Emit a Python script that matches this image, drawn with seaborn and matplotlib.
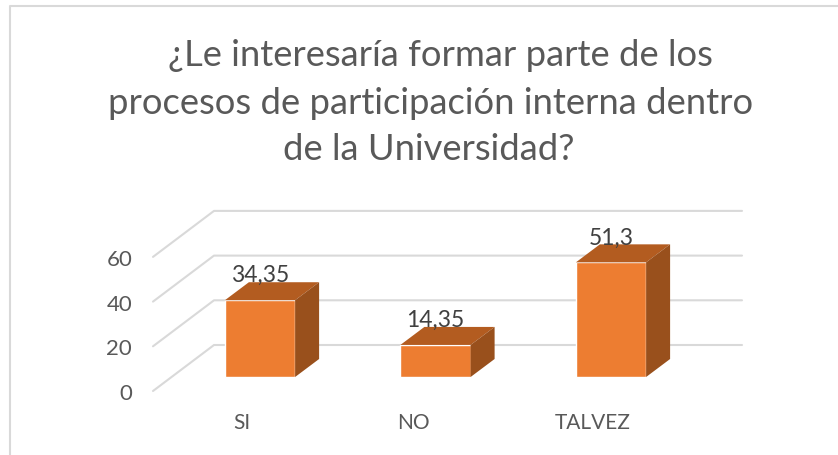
import matplotlib
matplotlib.use("Agg")
import matplotlib.pyplot as plt
import numpy as np
import pandas as pd
import seaborn as sns
from matplotlib.lines import Line2D
from matplotlib.patches import Polygon

categorias = ["SI", "NO", "TALVEZ"]
valores = [34.35, 14.35, 51.3]
etiquetas = ["34,35", "14,35", "51,3"]
ticks_y = [0, 20, 40, 60]
titulo = ["¿Le interesaría formar parte de los",
          "procesos de participación interna dentro",
          "de la Universidad?"]

W, H = 838, 456
GRIS = "#595959"

sns.set_theme(style="white")
plt.rcParams["font.family"] = ["Lato", "DejaVu Sans"]

fig = plt.figure(figsize=(W / 100, H / 100), dpi=100)
fig.patch.set_facecolor("white")

# borde del grafico: solo arriba y a la izquierda, el resto queda cortado
fig.add_artist(Line2D([10 / W, 10 / W, 1], [0, 1 - 7 / H, 1 - 7 / H], transform=fig.transFigure,
                      color="#d9d9d9", linewidth=1.5))

# ejes en pixeles: piso delantero abajo, pared trasera arriba
izq, der, arriba, abajo = 153, 742, 212, 392
base = 378
px_val = 2.235
px_cat = 175.5
ax = fig.add_axes([izq / W, 1 - abajo / H, (der - izq) / W, (abajo - arriba) / H])
ax.patch.set_alpha(0)

df = pd.DataFrame({"categoria": categorias, "valor": valores})
sns.barplot(data=df, x="categoria", y="valor", color="#ed7d31", saturation=1, width=0.4, ax=ax, zorder=3)

ax.set_xlim((izq - 260) / px_cat, (der - 260) / px_cat)
ax.set_ylim((base - abajo) / px_val, (base - arriba) / px_val)
sns.despine(ax=ax, left=True, bottom=True)

# profundidad de las barras y del piso
dx, dy = 24 / px_cat, 18 / px_val
pared_x, pared_y = 61 / px_cat, 46 / px_val

# escala del eje y, medida sobre el borde delantero
ax2 = ax.twinx()
ax2.set_ylim(0, (abajo - arriba) / px_val)
ax2.yaxis.tick_left()
ax2.set_yticks(ticks_y)
ax2.set_yticklabels([str(t) for t in ticks_y], fontsize=16, color=GRIS)
ax2.tick_params(axis="y", length=0, pad=15)
ax2.set_ylabel("")
sns.despine(ax=ax2, left=True, bottom=True, right=True)
ax2.patch.set_alpha(0)

# rejilla 3d
piso = (base - abajo) / px_val
x0 = ax.get_xlim()[0]
x1 = ax.get_xlim()[1]
for t in ticks_y:
    y_f = piso + t
    ax.plot([x0, x0 + pared_x, x1], [y_f, y_f + pared_y, y_f + pared_y], color="#d9d9d9",
            linewidth=1.5, zorder=1, clip_on=False)

# caras de arriba y de la derecha, a partir de las barras
for barra, texto in zip(ax.patches, etiquetas):
    xa = barra.get_x()
    xb = xa + barra.get_width()
    alto = barra.get_height()
    ax.add_patch(Polygon([(xa, alto), (xb, alto), (xb + dx, alto + dy), (xa + dx, alto + dy)],
                         facecolor="#b35c20", edgecolor="none", zorder=3, clip_on=False))
    ax.add_patch(Polygon([(xb, 0), (xb + dx, dy), (xb + dx, alto + dy), (xb, alto)],
                         facecolor="#99501c", edgecolor="none", zorder=3, clip_on=False))
    ax.text(xa + barra.get_width() / 2, alto + 19 / px_val, texto, ha="center", va="baseline",
            fontsize=16.5, color="#404040", zorder=4)

# etiquetas de categoria corridas a la izquierda, como en el original
ax.set_xticks(np.arange(len(categorias)) + np.array([-18, -22, -18]) / px_cat)
ax.set_xticklabels(categorias, fontsize=15, color=GRIS)
ax.tick_params(axis="x", length=0, pad=15)
ax.set_xlabel("")
ax.set_ylabel("")
ax.set_yticks([])

# titulo
for linea, cx, cy in zip(titulo, [440, 431, 429], [55, 104, 150]):
    fig.text(cx / W, 1 - cy / H, linea, ha="center", va="center", fontsize=26.2, color=GRIS)

fig.savefig("out.png", dpi=100)
